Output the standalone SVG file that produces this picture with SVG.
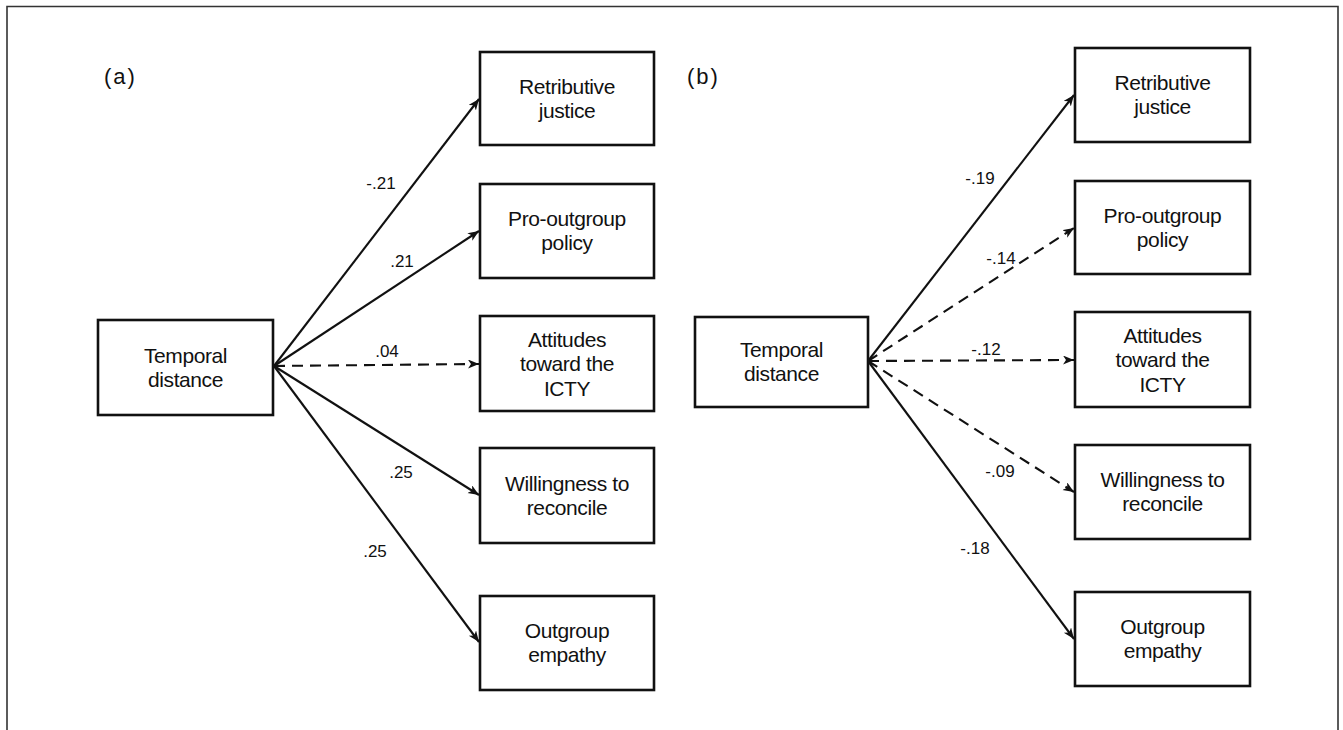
<svg xmlns="http://www.w3.org/2000/svg" width="1343" height="730" viewBox="0 0 1343 730">
<style>
.bg{fill:#ffffff}
.frame{fill:none;stroke:#333;stroke-width:1.6}
.box{fill:#ffffff;stroke:#111;stroke-width:2.6}
.t{font-family:"Liberation Sans",Arial,sans-serif;font-size:21px;fill:#111;text-anchor:middle;letter-spacing:-0.4px}
.lbl{font-family:"Liberation Sans",Arial,sans-serif;font-size:17px;fill:#111;text-anchor:middle}
.panel{font-family:"Liberation Sans",Arial,sans-serif;font-size:22px;fill:#111;letter-spacing:2px}
.solid{fill:none;stroke:#111;stroke-width:2.1;marker-end:url(#ah)}
.dash{fill:none;stroke:#111;stroke-width:2.1;stroke-dasharray:11 7;marker-end:url(#ah)}
</style>
<defs>
<marker id="ah" markerUnits="userSpaceOnUse" markerWidth="12" markerHeight="10" refX="11" refY="4.5" orient="auto">
<path d="M0,0 L11,4.5 L0,9 L3,4.5 Z" fill="#111"/>
</marker>
</defs>
<rect class="bg" x="0" y="0" width="1343" height="730"/>
<path class="frame" d="M7,731 V6.5 H1338 V731"/>
<text class="panel" x="104" y="84">(a)</text>
<text class="panel" x="687" y="84">(b)</text>

<g id="connectors">
<line class="solid" x1="274" y1="366" x2="479" y2="99"/>
<line class="solid" x1="274" y1="366" x2="479" y2="231"/>
<line class="dash" x1="274" y1="366" x2="479" y2="364"/>
<line class="solid" x1="274" y1="366" x2="479" y2="495"/>
<line class="solid" x1="274" y1="366" x2="479" y2="642"/>
<line class="solid" x1="868" y1="361" x2="1074" y2="95"/>
<line class="dash" x1="868" y1="361" x2="1074" y2="228"/>
<line class="dash" x1="868" y1="361" x2="1074" y2="360"/>
<line class="dash" x1="868" y1="361" x2="1074" y2="492"/>
<line class="solid" x1="868" y1="361" x2="1074" y2="639"/>
<text class="lbl" x="381" y="189">-.21</text>
<text class="lbl" x="402" y="267">.21</text>
<text class="lbl" x="387" y="357">.04</text>
<text class="lbl" x="401" y="478">.25</text>
<text class="lbl" x="375" y="557">.25</text>
<text class="lbl" x="980" y="184">-.19</text>
<text class="lbl" x="1001" y="264">-.14</text>
<text class="lbl" x="986" y="355">-.12</text>
<text class="lbl" x="1000" y="477">-.09</text>
<text class="lbl" x="975" y="554">-.18</text>
</g>

<g id="a-temporal"><rect class="box" x="98" y="320" width="175" height="95"/><text class="t" x="185.5" y="362.5">Temporal</text><text class="t" x="185.5" y="386.5">distance</text></g>
<g id="a-retributive"><rect class="box" x="480" y="52" width="174" height="93"/><text class="t" x="567" y="93.5">Retributive</text><text class="t" x="567" y="117.5">justice</text></g>
<g id="a-prooutgroup"><rect class="box" x="480" y="184" width="174" height="94"/><text class="t" x="567" y="226">Pro-outgroup</text><text class="t" x="567" y="250">policy</text></g>
<g id="a-attitudes"><rect class="box" x="480" y="316" width="174" height="95"/><text class="t" x="567" y="346.5">Attitudes</text><text class="t" x="567" y="371">toward the</text><text class="t" x="567" y="395.5">ICTY</text></g>
<g id="a-willingness"><rect class="box" x="480" y="448" width="174" height="95"/><text class="t" x="567" y="490.5">Willingness to</text><text class="t" x="567" y="514.5">reconcile</text></g>
<g id="a-outgroup"><rect class="box" x="480" y="596" width="174" height="94"/><text class="t" x="567" y="638">Outgroup</text><text class="t" x="567" y="662">empathy</text></g>

<g id="b-temporal"><rect class="box" x="695" y="317" width="173" height="90"/><text class="t" x="781.5" y="357">Temporal</text><text class="t" x="781.5" y="381">distance</text></g>
<g id="b-retributive"><rect class="box" x="1075" y="48" width="175" height="94"/><text class="t" x="1162.5" y="90">Retributive</text><text class="t" x="1162.5" y="114">justice</text></g>
<g id="b-prooutgroup"><rect class="box" x="1075" y="181" width="175" height="93"/><text class="t" x="1162.5" y="222.5">Pro-outgroup</text><text class="t" x="1162.5" y="246.5">policy</text></g>
<g id="b-attitudes"><rect class="box" x="1075" y="312" width="175" height="95"/><text class="t" x="1162.5" y="342.5">Attitudes</text><text class="t" x="1162.5" y="367">toward the</text><text class="t" x="1162.5" y="391.5">ICTY</text></g>
<g id="b-willingness"><rect class="box" x="1075" y="445" width="175" height="94"/><text class="t" x="1162.5" y="487">Willingness to</text><text class="t" x="1162.5" y="511">reconcile</text></g>
<g id="b-outgroup"><rect class="box" x="1075" y="592" width="175" height="94"/><text class="t" x="1162.5" y="634">Outgroup</text><text class="t" x="1162.5" y="658">empathy</text></g>
</svg>
